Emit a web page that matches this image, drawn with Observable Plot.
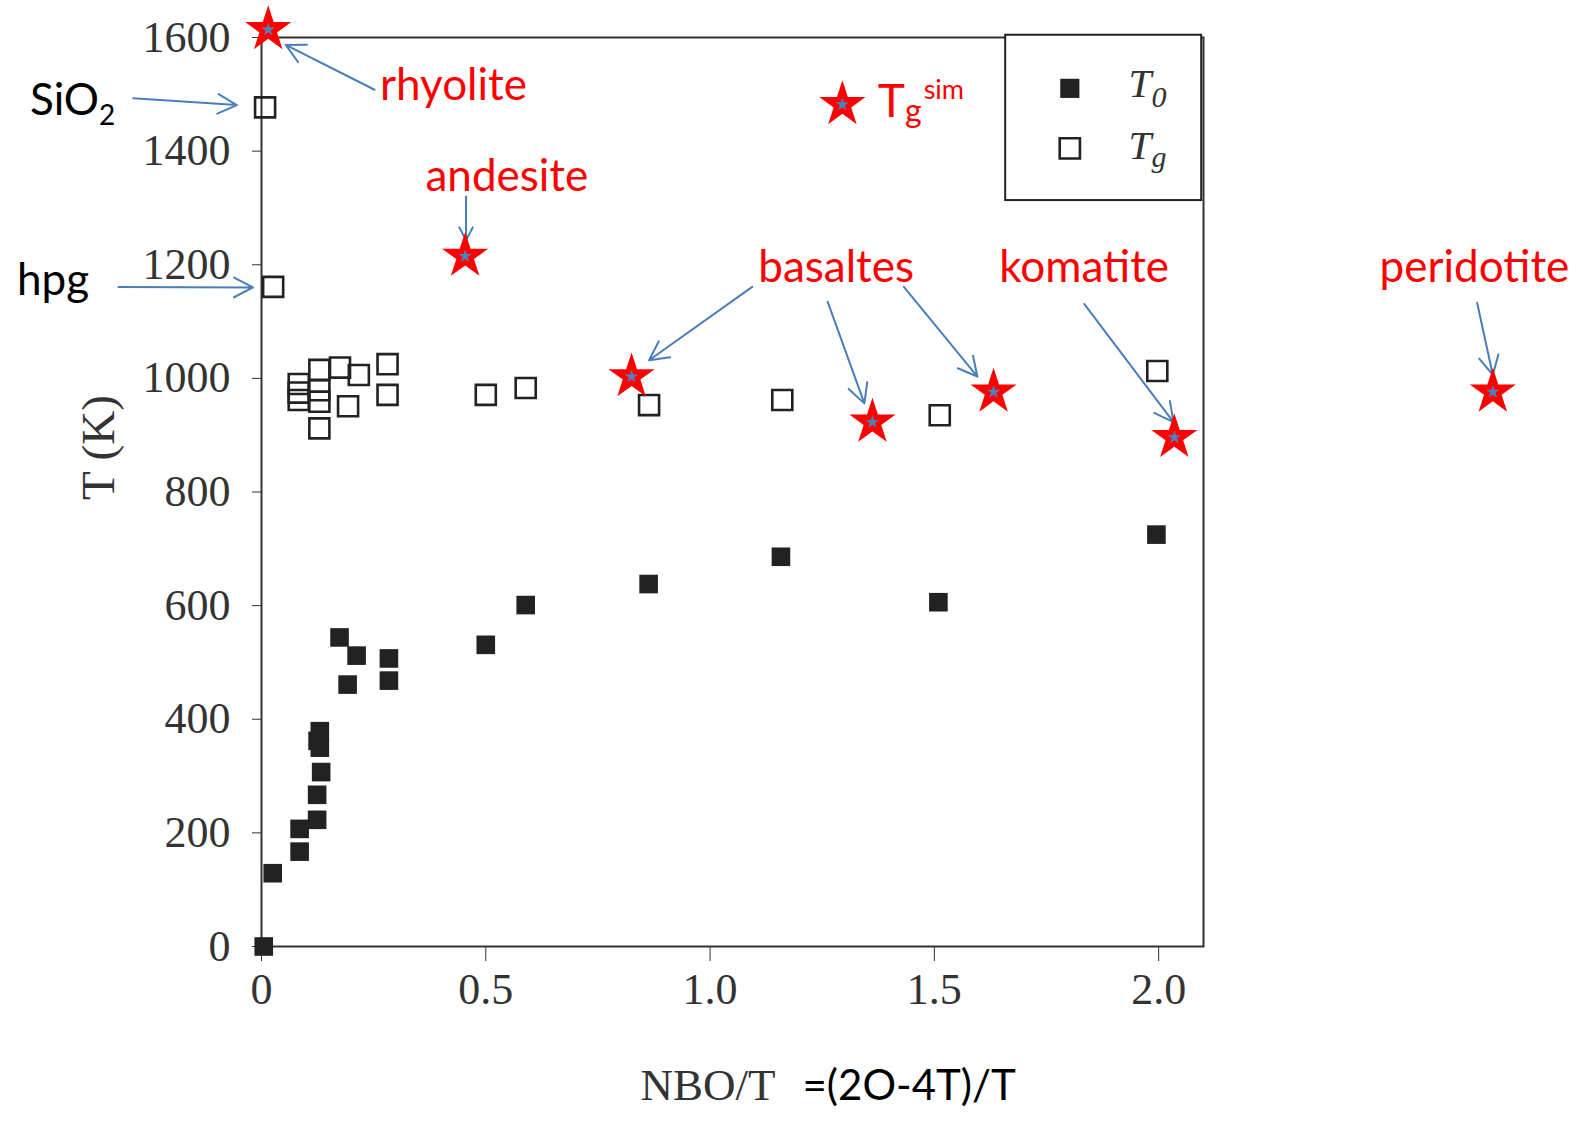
<!DOCTYPE html>
<html><head><meta charset="utf-8">
<script src="https://cdn.jsdelivr.net/npm/d3@7"></script>
<script src="https://cdn.jsdelivr.net/npm/@observablehq/plot@0.6"></script>
<style>html,body{margin:0;padding:0;background:#fff;} svg{display:block}</style>
</head><body><div id="chart"></div>
<script>
// ---- T0 (filled squares) ----
const t0X = [0.005, 0.025, 0.085, 0.085, 0.124, 0.124, 0.133, 0.13, 0.125, 0.13, 0.174, 0.212, 0.192, 0.284, 0.284, 0.5, 0.589, 0.863, 1.158, 1.509, 1.995];
const t0Y = [0, 129, 207, 167, 223, 267, 307, 379, 362, 350, 544, 512, 461, 507, 468, 531, 601, 638, 686, 606, 725];
// ---- Tg (open squares) ----
const tgX = [0.008, 0.026, 0.083, 0.083, 0.083, 0.129, 0.129, 0.129, 0.129, 0.175, 0.217, 0.193, 0.281, 0.281, 0.5, 0.589, 0.864, 1.161, 1.512, 1.997];
const tgY = [1477, 1161, 990, 975, 962, 1015, 979, 959, 912, 1019, 1006, 951, 1025, 971, 971, 983, 953, 962, 935, 1013];
// ---- Tg sim (red stars) ----
const starName = ["rhyolite", "andesite", "basalte 1", "basalte 2", "basalte 3", "komatite", "peridotite", "legend"];
const starX = [0.015, 0.454, 0.825, 1.362, 1.632, 2.035, 2.745, 1.295];
const starY = [1614, 1215, 1003, 923, 976, 896, 976, 1482];
// ---- red annotation labels ----
const labelText = ["rhyolite", "andesite", "basaltes", "komatite", "peridotite"];
const labelX = [0.428, 0.547, 1.281, 1.834, 2.704];
const labelY = [1515, 1354, 1195, 1195, 1195];
// ---- black annotation labels ----
const blackText = ["SiO_2", "hpg"];
const blackX = [-0.516, -0.545];
const blackY = [1488, 1171];
// ---- arrows ----
const arrowX1 = [-0.286, -0.319, 0.252, 0.456, 1.094, 1.262, 1.432, 1.834, 2.710];
const arrowY1 = [1493, 1161, 1508, 1320, 1161, 1135, 1161, 1131, 1133];
const arrowX2 = [-0.055, -0.019, 0.054, 0.456, 0.864, 1.344, 1.596, 2.033, 2.745];
const arrowY2 = [1481, 1160, 1587, 1243, 1032, 956, 1003, 923, 1006];
// ---- axes ----
const xTicks = [0, 0.5, 1, 1.5, 2];
const yTicks = [0, 200, 400, 600, 800, 1000, 1200, 1400, 1600];
// ---- legend ----
const legendBoxX = [1.659, 2.096];
const legendBoxY = [1313, 1604];
const legendKey = ["T0", "Tg"];
const legendText = ["T_0", "T_g"];
const legendKeyX = [1.802, 1.802];
const legendKeyY = [1510.5, 1404.8];
const legendTextX = [1.933, 1.933];
const legendTextY = [1518, 1410];
const simLabel = ["T_g^sim"];
const simLabelX = [1.374];
const simLabelY = [1486];

const t0 = t0X.map((x, i) => ({x, y: t0Y[i]}));
const tg = tgX.map((x, i) => ({x, y: tgY[i]}));
const stars = starX.map((x, i) => ({x, y: starY[i], name: starName[i]}));
const labels = labelText.map((t, i) => ({t, x: labelX[i], y: labelY[i]}));
const blacks = blackText.map((t, i) => ({t, x: blackX[i], y: blackY[i]}));
const arrows = arrowX1.map((x1, i) => ({x1, y1: arrowY1[i], x2: arrowX2[i], y2: arrowY2[i]}));
const legBox = [{x1: legendBoxX[0], x2: legendBoxX[1], y1: legendBoxY[0], y2: legendBoxY[1]}];
const legKeys = legendKey.map((k, i) => ({k, x: legendKeyX[i], y: legendKeyY[i]}));
const legTexts = legendText.map((t, i) => ({t, x: legendTextX[i], y: legendTextY[i]}));
const sims = simLabel.map((t, i) => ({t, x: simLabelX[i], y: simLabelY[i]}));

const SANS = "Lato, 'Open Sans', sans-serif";
const SERIF = "'Liberation Serif', 'DejaVu Serif', serif";

const plot = Plot.plot({
  width: 1587,
  height: 1126,
  marginLeft: 261,
  marginRight: 384,
  marginTop: 37,
  marginBottom: 180,
  style: {background: "white", color: "#333", fontFamily: SERIF, fontSize: "44px"},
  x: {domain: [0, 2.1], ticks: xTicks, tickFormat: d => d === 0 ? "0" : d.toFixed(1), tickSize: 15, tickPadding: 11, label: null},
  y: {domain: [0, 1600], ticks: yTicks, tickFormat: d => String(d), tickSize: 9, tickPadding: 22, label: null},
  marks: [
    Plot.frame({stroke: "#333", strokeWidth: 2}),
    Plot.rect(legBox, {x1: "x1", x2: "x2", y1: "y1", y2: "y2", fill: "white", stroke: "#222", strokeWidth: 2}),
    Plot.dot(legKeys.filter(d => d.k === "T0"), {x: "x", y: "y", symbol: "square", r: 10.8, fill: "#222", stroke: "none"}),
    Plot.dot(legKeys.filter(d => d.k === "Tg"), {x: "x", y: "y", symbol: "square", r: 11.4, fill: "none", stroke: "#222", strokeWidth: 2.6}),
    Plot.text(legTexts, {x: "x", y: "y", text: "t", textAnchor: "start", fontFamily: SERIF, fontStyle: "italic", fontSize: 41, fill: "#333"}),
    Plot.dot(t0, {x: "x", y: "y", symbol: "square", r: 10.5, fill: "#222", stroke: "none"}),
    Plot.dot(tg, {x: "x", y: "y", symbol: "square", r: 11.3, fill: "none", stroke: "#222", strokeWidth: 2.6}),
    Plot.arrow(arrows, {x1: "x1", y1: "y1", x2: "x2", y2: "y2", stroke: "#4a7ebb", strokeWidth: 2, headLength: 16, headAngle: 55}),
    Plot.dot(stars, {x: "x", y: "y", symbol: "star", r: 14.5, fill: "#ff0000", stroke: "none"}),
    Plot.dot(stars, {x: "x", y: "y", symbol: "star", r: 4.2, fill: "#4f81bd", stroke: "none"}),
    Plot.text(labels, {x: "x", y: "y", text: "t", fontFamily: SANS, fontSize: 44, fill: "#ff0000"}),
    Plot.text(blacks, {x: "x", y: "y", text: "t", textAnchor: "start", fontFamily: SANS, fontSize: 44, fill: "#000"}),
    Plot.text(sims, {x: "x", y: "y", text: "t", textAnchor: "start", fontFamily: SANS, fontSize: 46, fill: "#ff0000"}),
    Plot.text(["T (K)"], {frameAnchor: "left", dx: -163, dy: 8, rotate: -90, fontFamily: SERIF, fontSize: 47, fill: "#333"}),
    Plot.text(["NBO/T"], {frameAnchor: "bottom", textAnchor: "start", dx: -92, dy: 153, fontFamily: SERIF, fontSize: 45, fill: "#333"}),
    Plot.text(["=(2O-4T)/T"], {frameAnchor: "bottom", textAnchor: "start", dx: 70, dy: 153, fontFamily: SANS, fontSize: 42, fill: "#000"})
  ]
});

// sub/superscripts
const subStyle = {
  "SiO_2": {sub: 28, subDy: 10},
  "T_0": {sub: 30, subDy: 10},
  "T_g": {sub: 30, subDy: 8},
  "T_g^sim": {sub: 32, subDy: 5, sup: 27, supDy: -23}
};
d3.select(plot).selectAll("text").each(function () {
  const s = this.textContent;
  const st = subStyle[s];
  if (!st) return;
  const m = s.match(/^([^_^]+)(?:_([^_^]+))?(?:\^(.+))?$/);
  const el = d3.select(this);
  el.text(null);
  el.append("tspan").text(m[1]);
  if (m[2]) el.append("tspan").attr("dy", st.subDy).attr("font-size", st.sub).text(m[2]);
  if (m[3]) el.append("tspan").attr("dy", st.supDy).attr("font-size", st.sup).attr("dx", 2).text(m[3]);
});

document.getElementById("chart").appendChild(plot);
</script>
</body></html>
